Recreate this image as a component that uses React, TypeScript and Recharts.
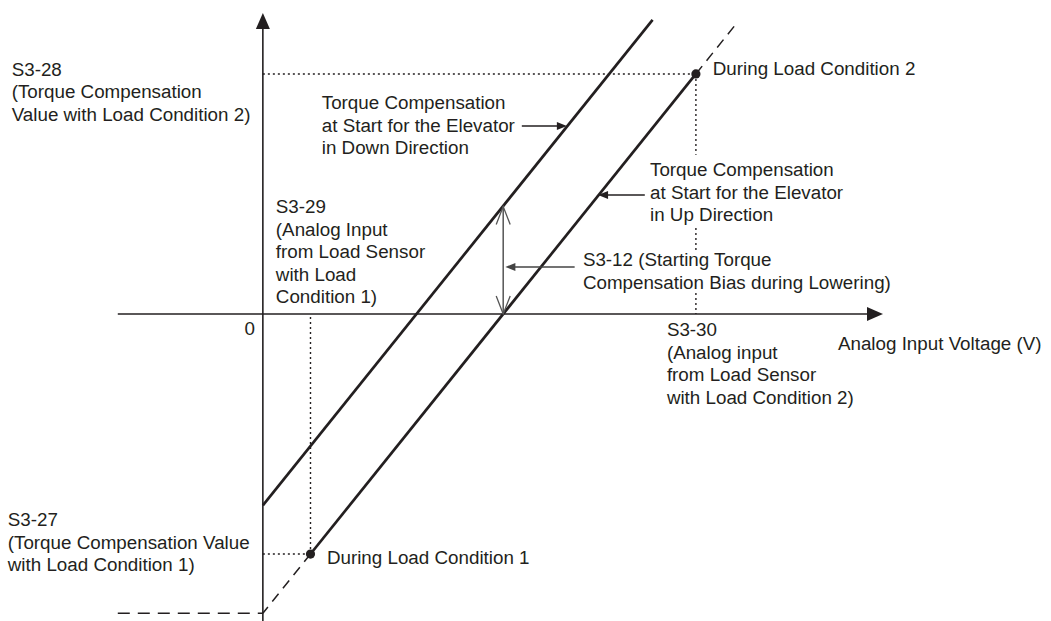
import { LineChart, Line, XAxis, YAxis, ReferenceLine, ReferenceDot } from 'recharts'

// plot extents: analog input (V) across, torque compensation (%) up
const xDomain = [-6.07, 18.2]
const yDomain = [-127.9, 130.8]

// parameter settings
const S3_29 = 1.1 // analog input with load condition 1
const S3_30 = 10 // analog input with load condition 2
const S3_27 = -100 // torque compensation with load condition 1
const S3_28 = 100 // torque compensation with load condition 2
const S3_12 = 44.8 // bias during lowering

// characteristic lines
const upLine = [{ v: S3_29, t: S3_27 }, { v: S3_30, t: S3_28 }]
const upLowExt = [{ v: S3_29, t: S3_27 }, { v: 0, t: -124.7 }]
const upHighExt = [{ v: S3_30, t: S3_28 }, { v: 10.9, t: 120.2 }]
const downLine = [{ v: 0, t: -79.7 }, { v: 9.0, t: 122.5 }]
const loadPoints = [{ v: S3_29, t: S3_27 }, { v: S3_30, t: S3_28 }]

// axis extents
const xAxisFrom = -3.35
const xAxisTip = 14.32
const yAxisTip = 125.4
const zeroBias = -124.7

// where the S3-30 guide is hidden behind the text blocks
const guideS330 = [[S3_28, 66.3], [35.8, 26.7], [8.75, 0]]

const notes = [
  { v: -5.8, t: 99.2, lines: ['S3-28', '(Torque Compensation', 'Value with Load Condition 2)'] },
  { v: -5.89, t: -88.3, lines: ['S3-27', '(Torque Compensation Value', 'with Load Condition 1)'] },
  { v: 0.3, t: 42.1, lines: ['S3-29', '(Analog Input', 'from Load Sensor', 'with Load', 'Condition 1)'] },
  { v: 1.36, t: 85.4, lines: ['Torque Compensation', 'at Start for the Elevator', 'in Down Direction'] },
  { v: 8.94, t: 57.5, lines: ['Torque Compensation', 'at Start for the Elevator', 'in Up Direction'] },
  { v: 7.39, t: 20, lines: ['S3-12 (Starting Torque', 'Compensation Bias during Lowering)'] },
  { v: 9.33, t: -9.17, lines: ['S3-30', '(Analog input', 'from Load Sensor', 'with Load Condition 2)'] },
  { v: 13.28, t: -15, lines: ['Analog Input Voltage (V)'] },
  { v: 10.39, t: 99.6, lines: ['During Load Condition 2'] },
  { v: 1.48, t: -104.2, lines: ['During Load Condition 1'] },
]

const ink = '#231f20'
const font = '"Liberation Sans", Arial, sans-serif'

const TextBlock = ({ cx, cy, lines, anchor = 'start' }: any) => (
  <text x={cx} y={cy} fontFamily={font} fontSize={18.8} fill={ink} textAnchor={anchor}>
    {lines.map((l: string, i: number) => (
      <tspan key={i} x={cx} dy={i === 0 ? 0 : 22.6}>{l}</tspan>
    ))}
  </text>
)

// filled arrow head, tip at (cx, cy)
const Head = ({ cx, cy, dir, len, half, fill }: any) => {
  let pts = ''
  if (dir === 'right') pts = `${cx},${cy} ${cx - len},${cy - half} ${cx - len},${cy + half}`
  if (dir === 'left') pts = `${cx},${cy} ${cx + len},${cy - half} ${cx + len},${cy + half}`
  if (dir === 'up') pts = `${cx},${cy} ${cx - half},${cy + len} ${cx + half},${cy + len}`
  return <polygon points={pts} fill={fill} />
}

// open "V" arrow head
const OpenHead = ({ cx, cy, dir, stroke }: any) => {
  const s = dir === 'up' ? 1 : -1
  return (
    <path
      d={`M${cx - 7},${cy + s * 18} L${cx},${cy} L${cx + 7},${cy + s * 18}`}
      fill="none"
      stroke={stroke}
      strokeWidth={1.3}
    />
  )
}

const LoadDot = (p: any) => <circle key={p.index} cx={p.cx} cy={p.cy} r={4.6} fill={ink} />

export default function App() {
  return (
    <div style={{ position: 'absolute', left: 0, top: 0, background: '#fff' }}>
      <LineChart width={1051} height={621} margin={{ top: 0, right: 0, bottom: 0, left: 0 }}>
        <XAxis type="number" dataKey="v" domain={xDomain} allowDataOverflow hide />
        <YAxis type="number" dataKey="t" domain={yDomain} allowDataOverflow hide />

        {/* axes */}
        <ReferenceLine segment={[{ x: xAxisFrom, y: 0 }, { x: xAxisTip - 0.3, y: 0 }]} stroke={ink} strokeWidth={1.6} />
        <ReferenceLine segment={[{ x: 0, y: yDomain[0] }, { x: 0, y: yAxisTip - 5 }]} stroke={ink} strokeWidth={1.6} />
        <ReferenceDot x={xAxisTip} y={0} r={0} shape={(p: any) => <Head {...p} dir="right" len={16} half={7} fill={ink} />} />
        <ReferenceDot x={0} y={yAxisTip} r={0} shape={(p: any) => <Head {...p} dir="up" len={16} half={7} fill={ink} />} />

        {/* dotted guides */}
        <ReferenceLine segment={[{ x: 0, y: S3_28 }, { x: S3_30, y: S3_28 }]} stroke={ink} strokeWidth={1.4} strokeDasharray="2 3" />
        <ReferenceLine segment={[{ x: 0, y: S3_27 }, { x: S3_29, y: S3_27 }]} stroke={ink} strokeWidth={1.4} strokeDasharray="2 3" />
        <ReferenceLine segment={[{ x: S3_29, y: S3_27 }, { x: S3_29, y: 0 }]} stroke={ink} strokeWidth={1.4} strokeDasharray="2 3" />
        {guideS330.map(([a, b], i) => (
          <ReferenceLine key={i} segment={[{ x: S3_30, y: a }, { x: S3_30, y: b }]} stroke={ink} strokeWidth={1.4} strokeDasharray="2 3" />
        ))}
        <ReferenceLine segment={[{ x: xAxisFrom, y: zeroBias }, { x: 0, y: zeroBias }]} stroke={ink} strokeWidth={1.5} strokeDasharray="12 8" />

        {/* characteristic lines */}
        <Line data={downLine} dataKey="t" type="linear" stroke={ink} strokeWidth={2.7} dot={false} activeDot={false} isAnimationActive={false} />
        <Line data={upLine} dataKey="t" type="linear" stroke={ink} strokeWidth={2.7} dot={false} activeDot={false} isAnimationActive={false} />
        <Line data={upLowExt} dataKey="t" type="linear" stroke={ink} strokeWidth={1.5} strokeDasharray="10 7" dot={false} activeDot={false} isAnimationActive={false} />
        <Line data={upHighExt} dataKey="t" type="linear" stroke={ink} strokeWidth={1.5} strokeDasharray="10 7" dot={false} activeDot={false} isAnimationActive={false} />
        <Line data={loadPoints} dataKey="t" type="linear" stroke="transparent" strokeWidth={0} dot={LoadDot} activeDot={false} isAnimationActive={false} />

        {/* S3-12 bias span */}
        <ReferenceLine segment={[{ x: 5.55, y: 0 }, { x: 5.55, y: S3_12 }]} stroke="#555" strokeWidth={1.5} />
        <ReferenceDot x={5.55} y={S3_12} r={0} shape={(p: any) => <OpenHead {...p} dir="up" stroke="#555" />} />
        <ReferenceDot x={5.55} y={0} r={0} shape={(p: any) => <OpenHead {...p} dir="down" stroke="#555" />} />

        {/* pointers from the notes */}
        <ReferenceLine segment={[{ x: 5.98, y: 78.3 }, { x: 6.8, y: 78.3 }]} stroke={ink} strokeWidth={1.5} />
        <ReferenceDot x={7.02} y={78.3} r={0} shape={(p: any) => <Head {...p} dir="right" len={10} half={4} fill={ink} />} />
        <ReferenceLine segment={[{ x: 8.82, y: 49.6 }, { x: 7.9, y: 49.6 }]} stroke={ink} strokeWidth={1.5} />
        <ReferenceDot x={7.74} y={49.6} r={0} shape={(p: any) => <Head {...p} dir="left" len={10} half={4} fill={ink} />} />
        <ReferenceLine segment={[{ x: 7.2, y: 19.6 }, { x: 5.75, y: 19.6 }]} stroke="#444" strokeWidth={1.5} />
        <ReferenceDot x={5.6} y={19.6} r={0} shape={(p: any) => <Head {...p} dir="left" len={10} half={4} fill="#444" />} />

        {/* text */}
        {notes.map((n, i) => (
          <ReferenceDot key={i} x={n.v} y={n.t} r={0} shape={(p: any) => <TextBlock {...p} lines={n.lines} />} />
        ))}
        <ReferenceDot x={-0.18} y={-8.75} r={0} shape={(p: any) => <TextBlock {...p} lines={['0']} anchor="end" />} />
      </LineChart>
    </div>
  )
}
